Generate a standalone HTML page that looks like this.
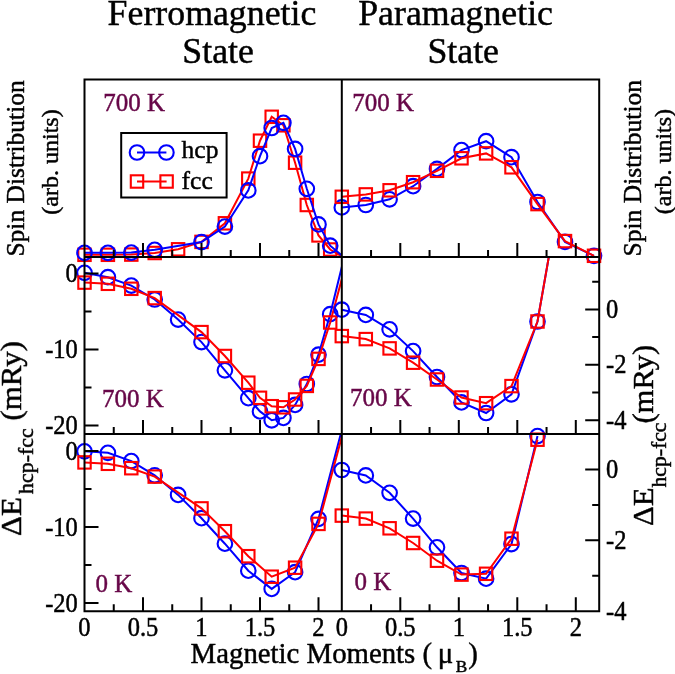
<!DOCTYPE html>
<html><head><meta charset="utf-8"><title>Ferromagnetic vs Paramagnetic State</title>
<style>
html,body{margin:0;padding:0;background:#fff;}
body{width:675px;height:674px;overflow:hidden;}
svg{display:block;}
text{font-family:"Liberation Serif",serif;stroke:currentColor;stroke-width:0.45px;}
</style></head><body>
<svg width="675" height="674" viewBox="0 0 675 674">
<rect width="675" height="674" fill="#fff"/>
<defs>
<clipPath id="ctl"><rect x="84.50" y="79.50" width="257.30" height="177.50"/></clipPath>
<clipPath id="ctr"><rect x="341.80" y="79.50" width="257.40" height="177.50"/></clipPath>
<clipPath id="cml"><rect x="84.50" y="257.00" width="257.30" height="177.10"/></clipPath>
<clipPath id="cmr"><rect x="341.80" y="257.00" width="257.40" height="177.10"/></clipPath>
<clipPath id="cbl"><rect x="84.50" y="434.10" width="257.30" height="177.20"/></clipPath>
<clipPath id="cbr"><rect x="341.80" y="434.10" width="257.40" height="177.20"/></clipPath>
</defs>
<path clip-path="url(#ctl)" fill="none" stroke-width="2.0" stroke-linejoin="miter" stroke="#ff0000" d="M84.50,254.80 L107.90,254.80 L131.30,254.60 L154.70,253.00 L178.10,249.30 L201.50,241.90 L224.90,223.30 L248.30,178.60 L260.00,140.70 L271.70,116.80 L283.40,125.30 L295.10,162.70 L306.80,205.00 L318.50,235.40 L330.20,249.50 L341.80,256.50 L350.00,262.00"/>
<g fill="none" stroke="#ff0000" stroke-width="2.1"><rect x="78.30" y="248.60" width="12.4" height="12.4"/><rect x="101.70" y="248.60" width="12.4" height="12.4"/><rect x="125.10" y="248.40" width="12.4" height="12.4"/><rect x="148.50" y="246.80" width="12.4" height="12.4"/><rect x="171.90" y="243.10" width="12.4" height="12.4"/><rect x="195.30" y="235.70" width="12.4" height="12.4"/><rect x="218.70" y="217.10" width="12.4" height="12.4"/><rect x="242.10" y="172.40" width="12.4" height="12.4"/><rect x="253.80" y="134.50" width="12.4" height="12.4"/><rect x="265.50" y="110.60" width="12.4" height="12.4"/><rect x="277.20" y="119.10" width="12.4" height="12.4"/><rect x="288.90" y="156.50" width="12.4" height="12.4"/><rect x="300.60" y="198.80" width="12.4" height="12.4"/><rect x="312.30" y="229.20" width="12.4" height="12.4"/><rect x="324.00" y="243.30" width="12.4" height="12.4"/></g>
<path clip-path="url(#ctl)" fill="none" stroke-width="2.0" stroke-linejoin="miter" stroke="#0000ff" d="M84.50,252.80 L107.90,252.80 L131.30,252.60 L154.70,249.80 L201.50,242.10 L224.90,226.60 L248.30,190.40 L260.00,156.20 L271.70,128.00 L283.40,122.80 L295.10,148.90 L306.80,188.80 L318.50,224.40 L330.20,245.70 L341.80,255.50 L350.00,262.00"/>
<g fill="none" stroke="#0000ff" stroke-width="2.1"><circle cx="84.50" cy="252.80" r="7.3"/><circle cx="107.90" cy="252.80" r="7.3"/><circle cx="131.30" cy="252.60" r="7.3"/><circle cx="154.70" cy="249.80" r="7.3"/><circle cx="201.50" cy="242.10" r="7.3"/><circle cx="224.90" cy="226.60" r="7.3"/><circle cx="248.30" cy="190.40" r="7.3"/><circle cx="260.00" cy="156.20" r="7.3"/><circle cx="271.70" cy="128.00" r="7.3"/><circle cx="283.40" cy="122.80" r="7.3"/><circle cx="295.10" cy="148.90" r="7.3"/><circle cx="306.80" cy="188.80" r="7.3"/><circle cx="318.50" cy="224.40" r="7.3"/><circle cx="330.20" cy="245.70" r="7.3"/></g>
<path clip-path="url(#ctr)" fill="none" stroke-width="2.0" stroke-linejoin="miter" stroke="#0000ff" d="M341.80,207.40 L365.80,205.00 L389.60,199.30 L413.10,186.20 L437.00,168.90 L461.50,150.10 L486.10,141.20 L511.50,157.20 L537.50,202.00 L565.00,241.90 L594.00,255.80"/>
<g fill="none" stroke="#0000ff" stroke-width="2.1"><circle cx="341.80" cy="207.40" r="7.3"/><circle cx="365.80" cy="205.00" r="7.3"/><circle cx="389.60" cy="199.30" r="7.3"/><circle cx="413.10" cy="186.20" r="7.3"/><circle cx="437.00" cy="168.90" r="7.3"/><circle cx="461.50" cy="150.10" r="7.3"/><circle cx="486.10" cy="141.20" r="7.3"/><circle cx="511.50" cy="157.20" r="7.3"/><circle cx="537.50" cy="202.00" r="7.3"/><circle cx="565.00" cy="241.90" r="7.3"/><circle cx="594.00" cy="255.80" r="7.3"/></g>
<path clip-path="url(#ctr)" fill="none" stroke-width="2.0" stroke-linejoin="miter" stroke="#ff0000" d="M341.80,196.80 L365.80,194.40 L389.60,190.30 L413.10,182.20 L437.00,170.80 L461.50,158.30 L486.10,153.40 L511.50,167.30 L537.50,204.10 L565.00,241.10 L594.00,255.80"/>
<g fill="none" stroke="#ff0000" stroke-width="2.1"><rect x="335.60" y="190.60" width="12.4" height="12.4"/><rect x="359.60" y="188.20" width="12.4" height="12.4"/><rect x="383.40" y="184.10" width="12.4" height="12.4"/><rect x="406.90" y="176.00" width="12.4" height="12.4"/><rect x="430.80" y="164.60" width="12.4" height="12.4"/><rect x="455.30" y="152.10" width="12.4" height="12.4"/><rect x="479.90" y="147.20" width="12.4" height="12.4"/><rect x="505.30" y="161.10" width="12.4" height="12.4"/><rect x="531.30" y="197.90" width="12.4" height="12.4"/><rect x="558.80" y="234.90" width="12.4" height="12.4"/><rect x="587.80" y="249.60" width="12.4" height="12.4"/></g>
<path clip-path="url(#cml)" fill="none" stroke-width="2.0" stroke-linejoin="miter" stroke="#0000ff" d="M84.50,272.80 L107.90,277.20 L131.30,285.60 L154.70,299.50 L178.10,319.60 L201.50,342.10 L224.90,370.30 L248.30,398.20 L260.00,411.40 L271.70,420.30 L283.40,417.90 L295.10,404.90 L306.80,384.00 L318.50,354.70 L330.20,314.20 L341.80,267.00 L345.00,255.00"/>
<g fill="none" stroke="#0000ff" stroke-width="2.1"><circle cx="84.50" cy="272.80" r="7.3"/><circle cx="107.90" cy="277.20" r="7.3"/><circle cx="131.30" cy="285.60" r="7.3"/><circle cx="154.70" cy="299.50" r="7.3"/><circle cx="178.10" cy="319.60" r="7.3"/><circle cx="201.50" cy="342.10" r="7.3"/><circle cx="224.90" cy="370.30" r="7.3"/><circle cx="248.30" cy="398.20" r="7.3"/><circle cx="260.00" cy="411.40" r="7.3"/><circle cx="271.70" cy="420.30" r="7.3"/><circle cx="283.40" cy="417.90" r="7.3"/><circle cx="295.10" cy="404.90" r="7.3"/><circle cx="306.80" cy="384.00" r="7.3"/><circle cx="318.50" cy="354.70" r="7.3"/><circle cx="330.20" cy="314.20" r="7.3"/></g>
<path clip-path="url(#cml)" fill="none" stroke-width="2.0" stroke-linejoin="miter" stroke="#ff0000" d="M84.50,282.60 L107.90,283.80 L131.30,288.80 L154.70,298.10 L201.50,332.10 L224.90,356.00 L248.30,382.70 L260.00,397.80 L271.70,406.20 L283.40,407.30 L295.10,399.50 L306.80,385.90 L318.50,358.90 L330.20,322.50 L341.80,279.00 L345.00,265.00"/>
<g fill="none" stroke="#ff0000" stroke-width="2.1"><rect x="78.30" y="276.40" width="12.4" height="12.4"/><rect x="101.70" y="277.60" width="12.4" height="12.4"/><rect x="125.10" y="282.60" width="12.4" height="12.4"/><rect x="148.50" y="291.90" width="12.4" height="12.4"/><rect x="195.30" y="325.90" width="12.4" height="12.4"/><rect x="218.70" y="349.80" width="12.4" height="12.4"/><rect x="242.10" y="376.50" width="12.4" height="12.4"/><rect x="253.80" y="391.60" width="12.4" height="12.4"/><rect x="265.50" y="400.00" width="12.4" height="12.4"/><rect x="277.20" y="401.10" width="12.4" height="12.4"/><rect x="288.90" y="393.30" width="12.4" height="12.4"/><rect x="300.60" y="379.70" width="12.4" height="12.4"/><rect x="312.30" y="352.70" width="12.4" height="12.4"/><rect x="324.00" y="316.30" width="12.4" height="12.4"/></g>
<path clip-path="url(#cmr)" fill="none" stroke-width="2.0" stroke-linejoin="miter" stroke="#0000ff" d="M341.80,309.70 L365.80,314.90 L389.60,329.30 L413.10,351.10 L437.00,377.00 L461.50,402.40 L486.10,413.00 L511.50,394.30 L537.50,321.50 L548.80,257.00 L552.00,240.00"/>
<g fill="none" stroke="#0000ff" stroke-width="2.1"><circle cx="341.80" cy="309.70" r="7.3"/><circle cx="365.80" cy="314.90" r="7.3"/><circle cx="389.60" cy="329.30" r="7.3"/><circle cx="413.10" cy="351.10" r="7.3"/><circle cx="437.00" cy="377.00" r="7.3"/><circle cx="461.50" cy="402.40" r="7.3"/><circle cx="486.10" cy="413.00" r="7.3"/><circle cx="511.50" cy="394.30" r="7.3"/><circle cx="537.50" cy="321.50" r="7.3"/></g>
<path clip-path="url(#cmr)" fill="none" stroke-width="2.0" stroke-linejoin="miter" stroke="#ff0000" d="M341.80,336.10 L365.80,339.10 L389.60,348.40 L413.10,362.70 L437.00,379.50 L461.50,397.50 L486.10,403.20 L511.50,386.10 L537.50,321.50 L548.80,257.00 L552.00,240.00"/>
<g fill="none" stroke="#ff0000" stroke-width="2.1"><rect x="335.60" y="329.90" width="12.4" height="12.4"/><rect x="359.60" y="332.90" width="12.4" height="12.4"/><rect x="383.40" y="342.20" width="12.4" height="12.4"/><rect x="406.90" y="356.50" width="12.4" height="12.4"/><rect x="430.80" y="373.30" width="12.4" height="12.4"/><rect x="455.30" y="391.30" width="12.4" height="12.4"/><rect x="479.90" y="397.00" width="12.4" height="12.4"/><rect x="505.30" y="379.90" width="12.4" height="12.4"/><rect x="531.30" y="315.30" width="12.4" height="12.4"/></g>
<path clip-path="url(#cbl)" fill="none" stroke-width="2.0" stroke-linejoin="miter" stroke="#0000ff" d="M84.50,451.30 L107.90,452.80 L131.30,461.10 L154.70,475.30 L178.10,494.90 L201.50,518.20 L224.90,543.70 L248.30,570.70 L271.70,588.90 L295.10,572.20 L318.50,518.90 L340.50,434.90 L342.00,429.00"/>
<g fill="none" stroke="#0000ff" stroke-width="2.1"><circle cx="84.50" cy="451.30" r="7.3"/><circle cx="107.90" cy="452.80" r="7.3"/><circle cx="131.30" cy="461.10" r="7.3"/><circle cx="154.70" cy="475.30" r="7.3"/><circle cx="178.10" cy="494.90" r="7.3"/><circle cx="201.50" cy="518.20" r="7.3"/><circle cx="224.90" cy="543.70" r="7.3"/><circle cx="248.30" cy="570.70" r="7.3"/><circle cx="271.70" cy="588.90" r="7.3"/><circle cx="295.10" cy="572.20" r="7.3"/><circle cx="318.50" cy="518.90" r="7.3"/></g>
<path clip-path="url(#cbl)" fill="none" stroke-width="2.0" stroke-linejoin="miter" stroke="#ff0000" d="M84.50,462.40 L107.90,463.80 L131.30,468.20 L154.70,476.60 L201.50,508.40 L224.90,531.20 L248.30,556.20 L271.70,576.70 L295.10,567.70 L318.50,523.90 L341.50,438.00 L343.00,432.00"/>
<g fill="none" stroke="#ff0000" stroke-width="2.1"><rect x="78.30" y="456.20" width="12.4" height="12.4"/><rect x="101.70" y="457.60" width="12.4" height="12.4"/><rect x="125.10" y="462.00" width="12.4" height="12.4"/><rect x="148.50" y="470.40" width="12.4" height="12.4"/><rect x="195.30" y="502.20" width="12.4" height="12.4"/><rect x="218.70" y="525.00" width="12.4" height="12.4"/><rect x="242.10" y="550.00" width="12.4" height="12.4"/><rect x="265.50" y="570.50" width="12.4" height="12.4"/><rect x="288.90" y="561.50" width="12.4" height="12.4"/><rect x="312.30" y="517.70" width="12.4" height="12.4"/></g>
<path clip-path="url(#cbr)" fill="none" stroke-width="2.0" stroke-linejoin="miter" stroke="#0000ff" d="M341.80,470.00 L365.80,475.40 L389.60,492.80 L413.10,518.60 L437.00,547.30 L461.50,573.00 L486.10,578.70 L511.50,544.10 L537.50,436.10"/>
<g fill="none" stroke="#0000ff" stroke-width="2.1"><circle cx="341.80" cy="470.00" r="7.3"/><circle cx="365.80" cy="475.40" r="7.3"/><circle cx="389.60" cy="492.80" r="7.3"/><circle cx="413.10" cy="518.60" r="7.3"/><circle cx="437.00" cy="547.30" r="7.3"/><circle cx="461.50" cy="573.00" r="7.3"/><circle cx="486.10" cy="578.70" r="7.3"/><circle cx="511.50" cy="544.10" r="7.3"/><circle cx="537.50" cy="436.10" r="7.3"/></g>
<path clip-path="url(#cbr)" fill="none" stroke-width="2.0" stroke-linejoin="miter" stroke="#ff0000" d="M341.80,515.60 L365.80,518.60 L389.60,528.30 L413.10,543.00 L437.00,560.70 L461.50,574.60 L486.10,573.80 L511.50,538.70 L537.50,439.70"/>
<g fill="none" stroke="#ff0000" stroke-width="2.1"><rect x="335.60" y="509.40" width="12.4" height="12.4"/><rect x="359.60" y="512.40" width="12.4" height="12.4"/><rect x="383.40" y="522.10" width="12.4" height="12.4"/><rect x="406.90" y="536.80" width="12.4" height="12.4"/><rect x="430.80" y="554.50" width="12.4" height="12.4"/><rect x="455.30" y="568.40" width="12.4" height="12.4"/><rect x="479.90" y="567.60" width="12.4" height="12.4"/><rect x="505.30" y="532.50" width="12.4" height="12.4"/><rect x="531.30" y="433.50" width="12.4" height="12.4"/></g>
<path fill="none" stroke="#000" stroke-width="2.0" d="M113.75,257.00v-7.00 M143.00,257.00v-14.00 M172.25,257.00v-7.00 M201.50,257.00v-14.00 M230.75,257.00v-7.00 M260.00,257.00v-14.00 M289.25,257.00v-7.00 M318.50,257.00v-14.00 M371.05,257.00v-7.00 M400.30,257.00v-14.00 M429.55,257.00v-7.00 M458.80,257.00v-14.00 M488.05,257.00v-7.00 M517.30,257.00v-14.00 M546.55,257.00v-7.00 M575.80,257.00v-14.00 M113.75,434.10v-7.00 M143.00,434.10v-14.00 M172.25,434.10v-7.00 M201.50,434.10v-14.00 M230.75,434.10v-7.00 M260.00,434.10v-14.00 M289.25,434.10v-7.00 M318.50,434.10v-14.00 M371.05,434.10v-7.00 M400.30,434.10v-14.00 M429.55,434.10v-7.00 M458.80,434.10v-14.00 M488.05,434.10v-7.00 M517.30,434.10v-14.00 M546.55,434.10v-7.00 M575.80,434.10v-14.00 M113.75,611.30v-7.00 M143.00,611.30v-14.00 M172.25,611.30v-7.00 M201.50,611.30v-14.00 M230.75,611.30v-7.00 M260.00,611.30v-14.00 M289.25,611.30v-7.00 M318.50,611.30v-14.00 M371.05,611.30v-7.00 M400.30,611.30v-14.00 M429.55,611.30v-7.00 M458.80,611.30v-14.00 M488.05,611.30v-7.00 M517.30,611.30v-14.00 M546.55,611.30v-7.00 M575.80,611.30v-14.00 M84.50,273.40h14.00 M84.50,311.40h7.00 M84.50,349.40h14.00 M84.50,387.40h7.00 M84.50,425.40h14.00 M84.50,451.00h14.00 M84.50,489.00h7.00 M84.50,527.00h14.00 M84.50,565.00h7.00 M84.50,603.00h14.00 M599.20,281.70h-7.00 M599.20,309.40h-14.00 M599.20,337.10h-7.00 M599.20,364.80h-14.00 M599.20,392.50h-7.00 M599.20,420.20h-14.00 M599.20,469.50h-14.00 M599.20,504.90h-7.00 M599.20,540.30h-14.00 M599.20,575.70h-7.00"/>
<path fill="none" stroke="#000" stroke-width="2.0" d="M84.50,79.50H599.20V611.30H84.50Z M341.80,79.50V611.30 M84.50,257.00H599.20 M84.50,434.10H599.20"/>
<rect x="121.2" y="133" width="105.4" height="64.5" fill="#fff" stroke="#000" stroke-width="2"/>
<path d="M137,152.5H166.4" stroke="#0000ff" stroke-width="2"/>
<g fill="none" stroke="#0000ff" stroke-width="2.1"><circle cx="137.00" cy="152.50" r="7.3"/><circle cx="166.40" cy="152.50" r="7.3"/></g>
<path d="M137,181.5H166.6" stroke="#ff0000" stroke-width="2"/>
<g fill="none" stroke="#ff0000" stroke-width="2.1"><rect x="130.80" y="175.30" width="12.4" height="12.4"/><rect x="160.40" y="175.30" width="12.4" height="12.4"/></g>
<g font-family="Liberation Serif, serif" style="will-change:transform">
<text x="107.60" y="24.60" font-size="35.80" text-anchor="start" fill="#000" color="#000">Ferromagnetic</text>
<text x="182.30" y="63.00" font-size="35.80" text-anchor="start" fill="#000" color="#000">State</text>
<text x="358.20" y="25.20" font-size="35.80" text-anchor="start" fill="#000" color="#000">Paramagnetic</text>
<text x="427.40" y="63.20" font-size="35.80" text-anchor="start" fill="#000" color="#000">State</text>
<text x="103.20" y="111.30" font-size="25.00" text-anchor="start" fill="#670748" color="#670748">700 K</text>
<text x="352.20" y="111.00" font-size="25.00" text-anchor="start" fill="#670748" color="#670748">700 K</text>
<text x="101.90" y="406.60" font-size="25.00" text-anchor="start" fill="#670748" color="#670748">700 K</text>
<text x="350.10" y="405.60" font-size="25.00" text-anchor="start" fill="#670748" color="#670748">700 K</text>
<text x="95.60" y="591.60" font-size="25.00" text-anchor="start" fill="#670748" color="#670748">0 K</text>
<text x="354.60" y="590.00" font-size="25.00" text-anchor="start" fill="#670748" color="#670748">0 K</text>
<text x="181.60" y="158.40" font-size="25.50" text-anchor="start" fill="#000" color="#000">hcp</text>
<text x="181.60" y="189.00" font-size="25.50" text-anchor="start" fill="#000" color="#000">fcc</text>
<text transform="translate(77.80,282.10) scale(1,1.080)" font-size="24.50" text-anchor="end">0</text>
<text transform="translate(77.80,358.10) scale(1,1.080)" font-size="24.50" text-anchor="end">-10</text>
<text transform="translate(77.80,434.10) scale(1,1.080)" font-size="24.50" text-anchor="end">-20</text>
<text transform="translate(77.80,459.70) scale(1,1.080)" font-size="24.50" text-anchor="end">0</text>
<text transform="translate(77.80,535.70) scale(1,1.080)" font-size="24.50" text-anchor="end">-10</text>
<text transform="translate(77.80,611.70) scale(1,1.080)" font-size="24.50" text-anchor="end">-20</text>
<text transform="translate(606.00,318.00) scale(1,1.080)" font-size="24.50" text-anchor="start">0</text>
<text transform="translate(606.00,373.40) scale(1,1.080)" font-size="24.50" text-anchor="start">-2</text>
<text transform="translate(606.00,428.80) scale(1,1.080)" font-size="24.50" text-anchor="start">-4</text>
<text transform="translate(606.00,478.10) scale(1,1.080)" font-size="24.50" text-anchor="start">0</text>
<text transform="translate(606.00,548.90) scale(1,1.080)" font-size="24.50" text-anchor="start">-2</text>
<text transform="translate(606.00,619.70) scale(1,1.080)" font-size="24.50" text-anchor="start">-4</text>
<text transform="translate(84.50,635.50) scale(1,1.080)" font-size="24.50" text-anchor="middle">0</text>
<text transform="translate(143.00,635.50) scale(1,1.080)" font-size="24.50" text-anchor="middle">0.5</text>
<text transform="translate(201.50,635.50) scale(1,1.080)" font-size="24.50" text-anchor="middle">1</text>
<text transform="translate(260.00,635.50) scale(1,1.080)" font-size="24.50" text-anchor="middle">1.5</text>
<text transform="translate(318.50,635.50) scale(1,1.080)" font-size="24.50" text-anchor="middle">2</text>
<text transform="translate(341.80,635.50) scale(1,1.080)" font-size="24.50" text-anchor="middle">0</text>
<text transform="translate(400.30,635.50) scale(1,1.080)" font-size="24.50" text-anchor="middle">0.5</text>
<text transform="translate(458.80,635.50) scale(1,1.080)" font-size="24.50" text-anchor="middle">1</text>
<text transform="translate(517.30,635.50) scale(1,1.080)" font-size="24.50" text-anchor="middle">1.5</text>
<text transform="translate(575.80,635.50) scale(1,1.080)" font-size="24.50" text-anchor="middle">2</text>
<text x="190.6" y="662.8" font-size="28.8">Magnetic Moments ( <tspan dx="-1.6">&#956;</tspan><tspan font-size="17.2" dx="2.5" dy="9.3">B</tspan><tspan dx="1.2" dy="-9.3">)</tspan></text>
<text transform="translate(24.20,168.40) rotate(-90)" text-anchor="middle" font-size="25.50">Spin Distribution</text>
<text transform="translate(57.50,162.00) rotate(-90)" text-anchor="middle" font-size="24.00">(arb. units)</text>
<text transform="translate(641.40,168.20) rotate(-90)" text-anchor="middle" font-size="25.50">Spin Distribution</text>
<text transform="translate(670.60,161.60) rotate(-90)" text-anchor="middle" font-size="24.00">(arb. units)</text>
<text transform="translate(21.0,536.0) rotate(-90) scale(1.068,1)" font-size="29">&#916;E<tspan font-size="20.5" dx="3" dy="12.4">hcp-fcc</tspan><tspan dy="-12.4"> (mRy)</tspan></text>
<text transform="translate(653.2,526.0) rotate(-90) scale(1.058,1)" font-size="29">&#916;E<tspan font-size="20.5" dy="13">hcp-fcc</tspan><tspan dx="-1" dy="-13">(mRy)</tspan></text>
</g>
</svg>
</body></html>
